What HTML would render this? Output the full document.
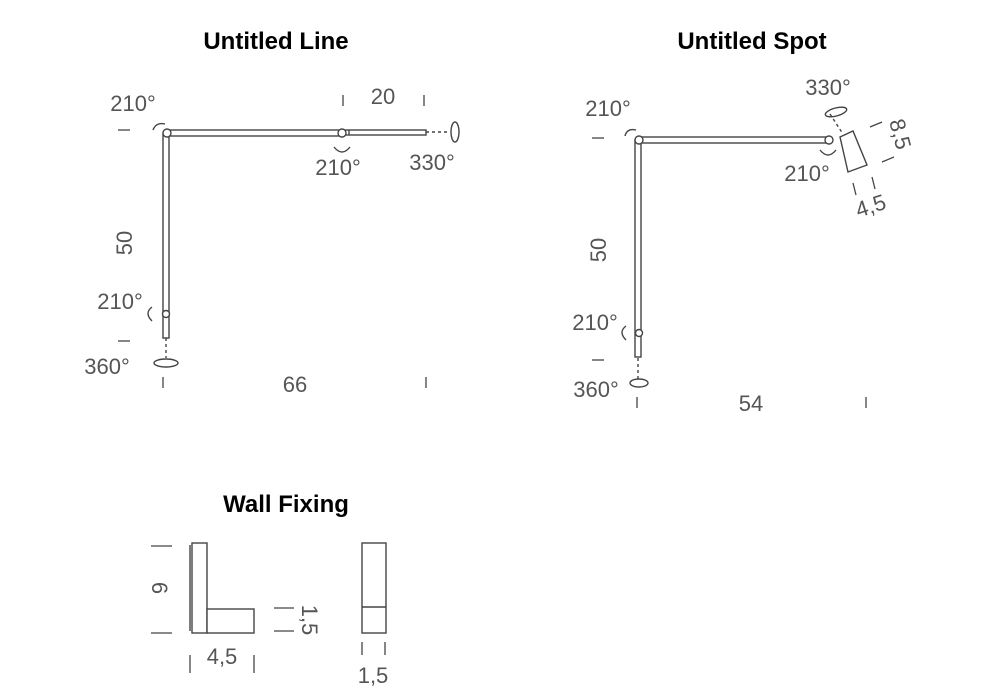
<!DOCTYPE html>
<html><head><style>
body{margin:0;background:#fff;width:1000px;height:700px;overflow:hidden}
svg{display:block}
text{font-family:"Liberation Sans",sans-serif;fill:#555;font-size:22px}
.t{font-weight:bold;fill:#000;font-size:24px}
</style></head><body>
<svg width="1000" height="700" viewBox="0 0 1000 700" stroke="#444" fill="none" stroke-width="1.4">
<g stroke="none">
<text class="t" x="276" y="49" text-anchor="middle">Untitled Line</text>
<text class="t" x="752" y="49" text-anchor="middle">Untitled Spot</text>
<text class="t" x="286" y="512" text-anchor="middle">Wall Fixing</text>
</g>
<!-- Left diagram -->
<rect x="163" y="133" width="6" height="205" fill="#fff"/>
<rect x="166" y="130" width="178" height="6" fill="#fff"/>
<rect x="344" y="130" width="82" height="5" fill="#fff"/>
<line x1="349" y1="130" x2="349" y2="135"/>
<circle cx="167" cy="133" r="4" fill="#fff"/>
<circle cx="342" cy="133" r="4" fill="#fff"/>
<circle cx="166" cy="314" r="3.5" fill="#fff"/>
<line x1="426" y1="132" x2="447" y2="132" stroke-dasharray="3,3"/>
<ellipse cx="455" cy="132" rx="4" ry="10"/>
<line x1="166" y1="338" x2="166" y2="358" stroke-dasharray="3,3"/>
<ellipse cx="166" cy="363" rx="12" ry="4"/>
<path d="M153 130 q3 -8 12 -6"/>
<path d="M334 147 q8 10 16 0"/>
<path d="M152 307 q-8 6 0 14"/>
<g stroke-width="1.3">
<line x1="118" y1="130" x2="130" y2="130"/>
<line x1="343" y1="95" x2="343" y2="106"/><line x1="424" y1="95" x2="424" y2="106"/>
<line x1="118" y1="341" x2="130" y2="341"/>
<line x1="163" y1="377" x2="163" y2="388"/><line x1="426" y1="377" x2="426" y2="388"/>
</g>
<g stroke="none">
<text x="133" y="111" text-anchor="middle">210°</text>
<text x="383" y="104" text-anchor="middle">20</text>
<text x="338" y="175" text-anchor="middle">210°</text>
<text x="432" y="170" text-anchor="middle">330°</text>
<text transform="translate(132,243) rotate(-90)" text-anchor="middle">50</text>
<text x="120" y="309" text-anchor="middle">210°</text>
<text x="107" y="374" text-anchor="middle">360°</text>
<text x="295" y="392" text-anchor="middle">66</text>
</g>
<!-- Right diagram -->
<rect x="635" y="140" width="6" height="217" fill="#fff"/>
<rect x="638" y="137" width="192" height="6" fill="#fff"/>
<circle cx="639" cy="140" r="4" fill="#fff"/>
<circle cx="829" cy="140" r="4" fill="#fff"/>
<circle cx="639" cy="333" r="3.5" fill="#fff"/>
<polygon points="840,137 853,131 867,165 848,172" fill="#fff"/>
<line x1="830" y1="114" x2="843" y2="134" stroke-dasharray="3,3"/>
<ellipse cx="836" cy="112" rx="11" ry="4" transform="rotate(-15 836 112)"/>
<line x1="638" y1="358" x2="638" y2="380" stroke-dasharray="3,3"/>
<ellipse cx="639" cy="383" rx="9" ry="4"/>
<path d="M625 136 q2 -8 11 -6"/>
<path d="M820 150 q8 10 16 0"/>
<path d="M626 326 q-8 6 0 14"/>
<g stroke-width="1.3">
<line x1="592" y1="138" x2="604" y2="138"/>
<line x1="592" y1="360" x2="604" y2="360"/>
<line x1="637" y1="397" x2="637" y2="408"/><line x1="866" y1="397" x2="866" y2="408"/>
<line x1="870" y1="127" x2="882" y2="122"/><line x1="882" y1="162" x2="894" y2="157"/>
<line x1="853" y1="183" x2="856" y2="195"/><line x1="872" y1="177" x2="875" y2="189"/>
</g>
<g stroke="none">
<text x="608" y="116" text-anchor="middle">210°</text>
<text x="828" y="95" text-anchor="middle">330°</text>
<text transform="translate(893,136) rotate(75)" text-anchor="middle">8,5</text>
<text transform="translate(873,213) rotate(-18)" text-anchor="middle">4,5</text>
<text x="807" y="181" text-anchor="middle">210°</text>
<text transform="translate(606,250) rotate(-90)" text-anchor="middle">50</text>
<text x="595" y="330" text-anchor="middle">210°</text>
<text x="596" y="397" text-anchor="middle">360°</text>
<text x="751" y="411" text-anchor="middle">54</text>
</g>
<!-- Wall fixing -->
<rect x="192" y="543" width="15" height="90" fill="#fff"/>
<line x1="190" y1="545" x2="190" y2="631"/>
<rect x="207" y="609" width="47" height="24" fill="#fff"/>
<rect x="362" y="543" width="24" height="90"/>
<line x1="362" y1="607" x2="386" y2="607"/>
<g stroke-width="1.3">
<line x1="151" y1="546" x2="172" y2="546"/><line x1="151" y1="633" x2="172" y2="633"/>
<line x1="274" y1="608" x2="294" y2="608"/><line x1="274" y1="631" x2="294" y2="631"/>
<line x1="190" y1="655" x2="190" y2="673"/><line x1="254" y1="655" x2="254" y2="673"/>
<line x1="362" y1="642" x2="362" y2="655"/><line x1="385" y1="642" x2="385" y2="655"/>
</g>
<g stroke="none">
<text transform="translate(152,588) rotate(90)" text-anchor="middle">6</text>
<text transform="translate(302,620) rotate(90)" text-anchor="middle">1,5</text>
<text x="222" y="664" text-anchor="middle">4,5</text>
<text x="373" y="683" text-anchor="middle">1,5</text>
</g>
</svg>
</body></html>
